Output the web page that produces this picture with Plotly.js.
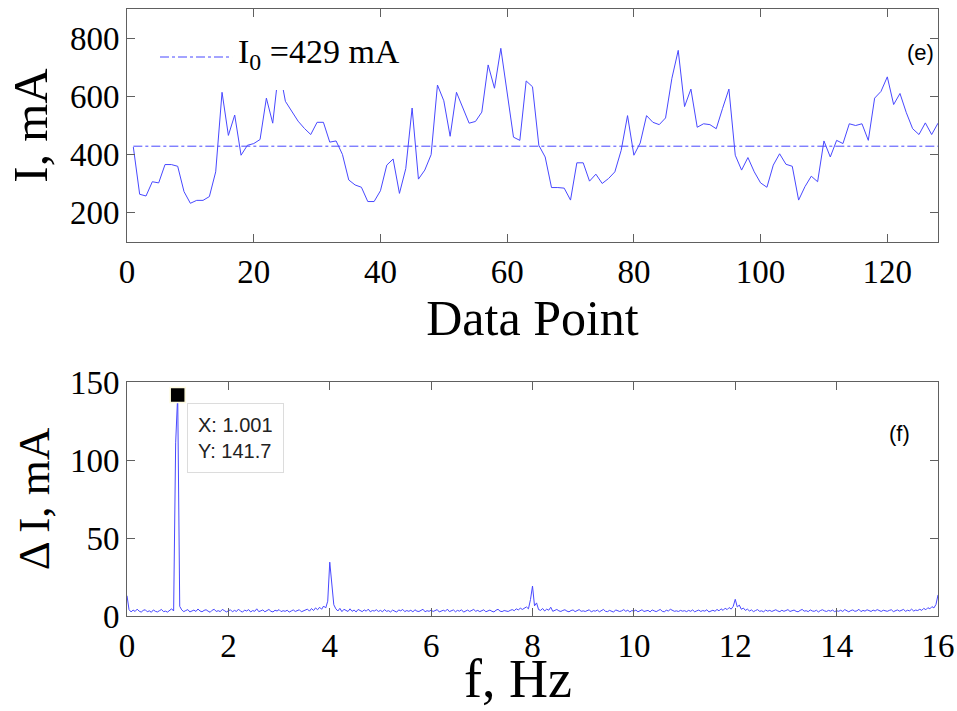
<!DOCTYPE html>
<html>
<head>
<meta charset="utf-8">
<script src="https://cdn.plot.ly/plotly-3.0.1.min.js"></script>
<style>html,body{margin:0;padding:0;background:#fff;}#chart{width:957px;height:711px;}</style>
</head>
<body>
<div id="chart"></div>
<script>
// ---------- Panel (e): current vs data point ----------
const dataPoints = [];
for (let i = 1; i <= 128; i++) dataPoints.push(i);
const currentMA = [
  426, 264, 258, 307, 303, 366, 366, 360, 273, 233,
  243, 243, 256, 341, 614, 466, 536, 398, 432, 438,
  452, 594, 508, 700, 583, 547, 515, 490, 469, 511,
  511, 443, 447, 401, 313, 296, 288, 239, 239, 276,
  364, 385, 267, 352, 560, 316, 347, 400, 639, 585,
  463, 614, 563, 508, 514, 546, 708, 628, 765, 612,
  460, 449, 653, 633, 432, 392, 287, 287, 285, 244,
  372, 372, 309, 333, 301, 318, 341, 415, 534, 398,
  440, 534, 511, 503, 526, 662, 758, 565, 625, 494,
  506, 503, 489, 559, 625, 398, 347, 390, 341, 303,
  288, 364, 403, 367, 360, 244, 290, 326, 307, 447,
  392, 449, 438, 506, 500, 506, 449, 594, 617, 667,
  572, 610, 544, 489, 469, 509, 469, 508
];
const meanCurrent = 429;
const meanLabel = "I<sub>0</sub> =429 mA";

// ---------- Panel (f): amplitude spectrum ----------
const freqStep = 0.04;  // Hz between spectrum samples
const deltaI = [
  13.0, 4.1, 2.6, 3.8, 2.9, 4.4, 3.1, 2.5, 3.6, 4.0, 2.7, 3.3, 2.4, 3.9, 3.0, 2.6, 3.4, 4.2, 2.8, 3.1, 2.5, 3.7, 4.6, 3.2, 111,
  141.7, 6.2, 3.9, 2.8, 3.5, 4.1, 2.6, 3.3, 3.8, 2.9, 4.5, 3.2, 2.7, 3.6, 4.0, 3.1, 2.4, 3.7, 4.3, 2.9, 3.4, 2.8, 4.2, 3.5, 2.6,
  3.3, 4.0, 2.7, 3.6, 2.9, 4.4, 3.1, 2.5, 3.8, 3.2, 4.1, 2.6, 3.5, 3.0, 4.6, 2.8, 3.3, 3.9, 2.7, 3.4, 4.2, 3.0, 2.6, 3.7, 3.2,
  4.1, 2.8, 3.4, 3.0, 3.7, 2.5, 3.2, 3.9, 2.9, 3.5, 4.0, 2.7, 3.3, 3.6, 4.4, 3.1, 4.8, 3.5, 5.2, 4.0, 5.6, 4.3, 6.4, 5.1, 9.5,
  34.5, 18, 7.2, 4.6, 3.2, 4.9, 2.8, 4.3, 3.5, 2.9, 4.6, 3.0, 3.8, 2.6, 4.2, 3.4, 2.8, 3.9, 3.1, 4.4, 2.7, 3.5, 3.2, 4.0, 2.9,
  3.6, 2.7, 4.1, 3.0, 3.4, 2.6, 3.8, 3.2, 2.5, 3.9, 3.3, 4.2, 2.8, 3.5, 3.0, 3.7, 2.6, 4.0, 3.1, 2.9, 3.6, 4.3, 2.7, 3.4, 3.0,
  3.8, 2.9, 3.5, 4.1, 2.6, 3.2, 3.7, 3.0, 4.4, 2.8, 3.3, 3.9, 2.7, 3.6, 3.1, 4.0, 2.5, 3.4, 3.8, 2.9, 3.3, 4.2, 3.0, 3.6, 2.8,
  3.5, 4.0, 2.7, 3.2, 3.8, 3.0, 2.6, 3.7, 4.3, 3.1, 2.8, 3.5, 3.3, 2.9, 3.6, 4.1, 3.4, 4.6, 3.9, 5.0, 4.2, 4.8, 5.8, 4.6, 10.5,
  19.2, 6.5, 8.4, 4.1, 3.6, 4.8, 3.2, 4.4, 3.7, 5.6, 3.0, 3.8, 4.2, 3.3, 2.9, 3.6, 4.0, 3.1, 2.7, 3.5, 3.9, 2.8, 3.4, 4.1, 3.0,
  3.3, 2.9, 3.7, 4.0, 2.6, 3.4, 3.1, 3.8, 2.7, 3.5, 4.2, 3.0, 2.8, 3.6, 3.2, 2.5, 3.9, 3.4, 2.9, 3.3, 4.1, 3.0, 3.7, 2.6, 3.5,
  3.1, 3.8, 2.7, 3.4, 4.0, 2.9, 3.2, 3.6, 2.6, 3.9, 3.3, 2.8, 3.5, 4.2, 3.0, 2.7, 3.7, 3.2, 4.3, 3.5, 3.0, 3.3, 2.9, 3.6, 3.1,
  3.4, 2.8, 3.6, 3.0, 3.9, 2.7, 3.3, 3.8, 2.9, 3.5, 3.1, 4.0, 2.6, 3.4, 3.7, 3.0, 4.2, 3.3, 4.6, 3.6, 5.0, 4.1, 5.4, 4.4, 6.2,
  10.7, 5.8, 7.0, 4.3, 5.1, 3.6, 4.4, 3.2, 3.9, 2.8, 3.5, 4.1, 3.0, 3.3, 2.7, 3.8, 3.1, 3.6, 2.9, 3.4, 4.0, 3.2, 2.8, 3.7, 3.0,
  3.5, 4.1, 2.9, 3.3, 3.8, 3.0, 2.7, 3.6, 4.2, 3.1, 3.4, 2.8, 3.9, 3.2, 3.0, 3.7, 2.6, 3.5, 4.0, 3.3, 2.9, 3.6, 3.1, 3.8, 2.8,
  3.4, 3.0, 3.7, 2.9, 4.1, 3.2, 2.7, 3.5, 3.9, 3.0, 3.3, 4.3, 2.8, 3.6, 3.1, 4.0, 3.4, 2.9, 3.8, 3.2, 4.1, 3.5, 2.9, 3.7, 3.3,
  3.0, 3.6, 4.0, 2.8, 3.4, 3.9, 3.1, 3.5, 4.2, 3.0, 3.7, 3.3, 4.4, 3.2, 3.8, 3.5, 4.3, 3.6, 4.9, 4.0, 5.3, 4.6, 6.0, 5.2, 7.4,
  13.5
];
const freqHz = deltaI.map((_, i) => +(i * freqStep).toFixed(3));
const tipX = 1.0, tipY = 141.7;
const tipText = "X: 1.001<br>Y: 141.7";

// ---------- styling ----------
const serif = "Liberation Serif, Times New Roman, serif";
const sans = "Liberation Sans, Arial, sans-serif";
const lineBlue = "rgb(72,72,255)";
const axisCommon = {
  showline: true, linecolor: "#606060", linewidth: 1, mirror: "ticks",
  ticks: "inside", ticklen: 8, tickcolor: "#606060", tickwidth: 1,
  showgrid: false, zeroline: false,
  tickfont: {family: serif, size: 33, color: "#000"}
};

const traces = [
  {x: dataPoints, y: currentMA, xaxis: "x", yaxis: "y", mode: "lines",
   line: {color: lineBlue, width: 1}, showlegend: false, hoverinfo: "skip"},
  {x: [dataPoints[0], dataPoints[dataPoints.length - 1]], y: [meanCurrent, meanCurrent],
   xaxis: "x", yaxis: "y", mode: "lines", name: meanLabel,
   line: {color: lineBlue, width: 1, dash: "dashdot"}, showlegend: false},
  {x: freqHz, y: deltaI, xaxis: "x2", yaxis: "y2", mode: "lines",
   line: {color: lineBlue, width: 1}, showlegend: false},
  {x: [tipX], y: [tipY], xaxis: "x2", yaxis: "y2", mode: "markers",
   marker: {symbol: "square", size: 15, color: "#000", line: {color: "#fffbe0", width: 1.5}},
   showlegend: false, cliponaxis: false}
];

const layout = {
  width: 957, height: 711,
  paper_bgcolor: "#fff", plot_bgcolor: "#fff",
  margin: {l: 127, r: 19, t: 9, b: 95},
  showlegend: false,
  xaxis: Object.assign({}, axisCommon, {domain: [0, 1], anchor: "y", range: [0, 128], dtick: 20,
    title: {text: "Data Point", font: {family: serif, size: 50, color: "#000"}, standoff: 2}}),
  yaxis: Object.assign({}, axisCommon, {domain: [0.6161, 1], anchor: "x", range: [100, 900], dtick: 200,
    title: {text: "I, mA", font: {family: serif, size: 49, color: "#000"}, standoff: 6}}),
  xaxis2: Object.assign({}, axisCommon, {domain: [0, 1], anchor: "y2", range: [0, 16], dtick: 2}),
  yaxis2: Object.assign({}, axisCommon, {domain: [0, 0.3855], anchor: "x2", range: [0, 150], dtick: 50,
    title: {text: "Δ I, mA", font: {family: serif, size: 45, color: "#000"}, standoff: 6}}),
  shapes: [
    // legend sample line
    {type: "line", xref: "x domain", yref: "y domain", x0: 0.0407, x1: 0.1295, y0: 0.794, y1: 0.794,
     line: {color: lineBlue, width: 1, dash: "dashdot"}, layer: "above"}
  ],
  annotations: [
    // legend label on an opaque box (hides the trace beneath it, as in the original)
    {xref: "x domain", yref: "y domain", x: 0.1344, y: 0.9614, xanchor: "left", yanchor: "top",
     width: 176, height: 68, align: "left", valign: "middle", borderpad: 2,
     bgcolor: "#fff", borderwidth: 0,
     text: meanLabel, showarrow: false, font: {family: serif, size: 34, color: "#000"}},
    // x-axis title of the lower panel
    {xref: "x2 domain", yref: "y2 domain", x: 0.482, y: -0.268, xanchor: "center", yanchor: "middle",
     text: "f, Hz", showarrow: false, font: {family: serif, size: 54, color: "#000"}},
    {xref: "x domain", yref: "y domain", x: 0.979, y: 0.815, xanchor: "center", yanchor: "middle",
     text: "(e)", showarrow: false, font: {family: sans, size: 22, color: "#000"}},
    {xref: "x2 domain", yref: "y2 domain", x: 0.953, y: 0.782, xanchor: "center", yanchor: "middle",
     text: "(f)", showarrow: false, font: {family: sans, size: 22, color: "#000"}},
    {xref: "x2", yref: "y2", x: 1.18, y: 136.5, xanchor: "left", yanchor: "top",
     text: tipText, align: "left", showarrow: false, bgcolor: "#fff",
     bordercolor: "#dcdcdc", borderwidth: 1, borderpad: 10,
     font: {family: sans, size: 20, color: "#222"}}
  ]
};

Plotly.newPlot("chart", traces, layout, {displayModeBar: false, staticPlot: true});
</script>
</body>
</html>
